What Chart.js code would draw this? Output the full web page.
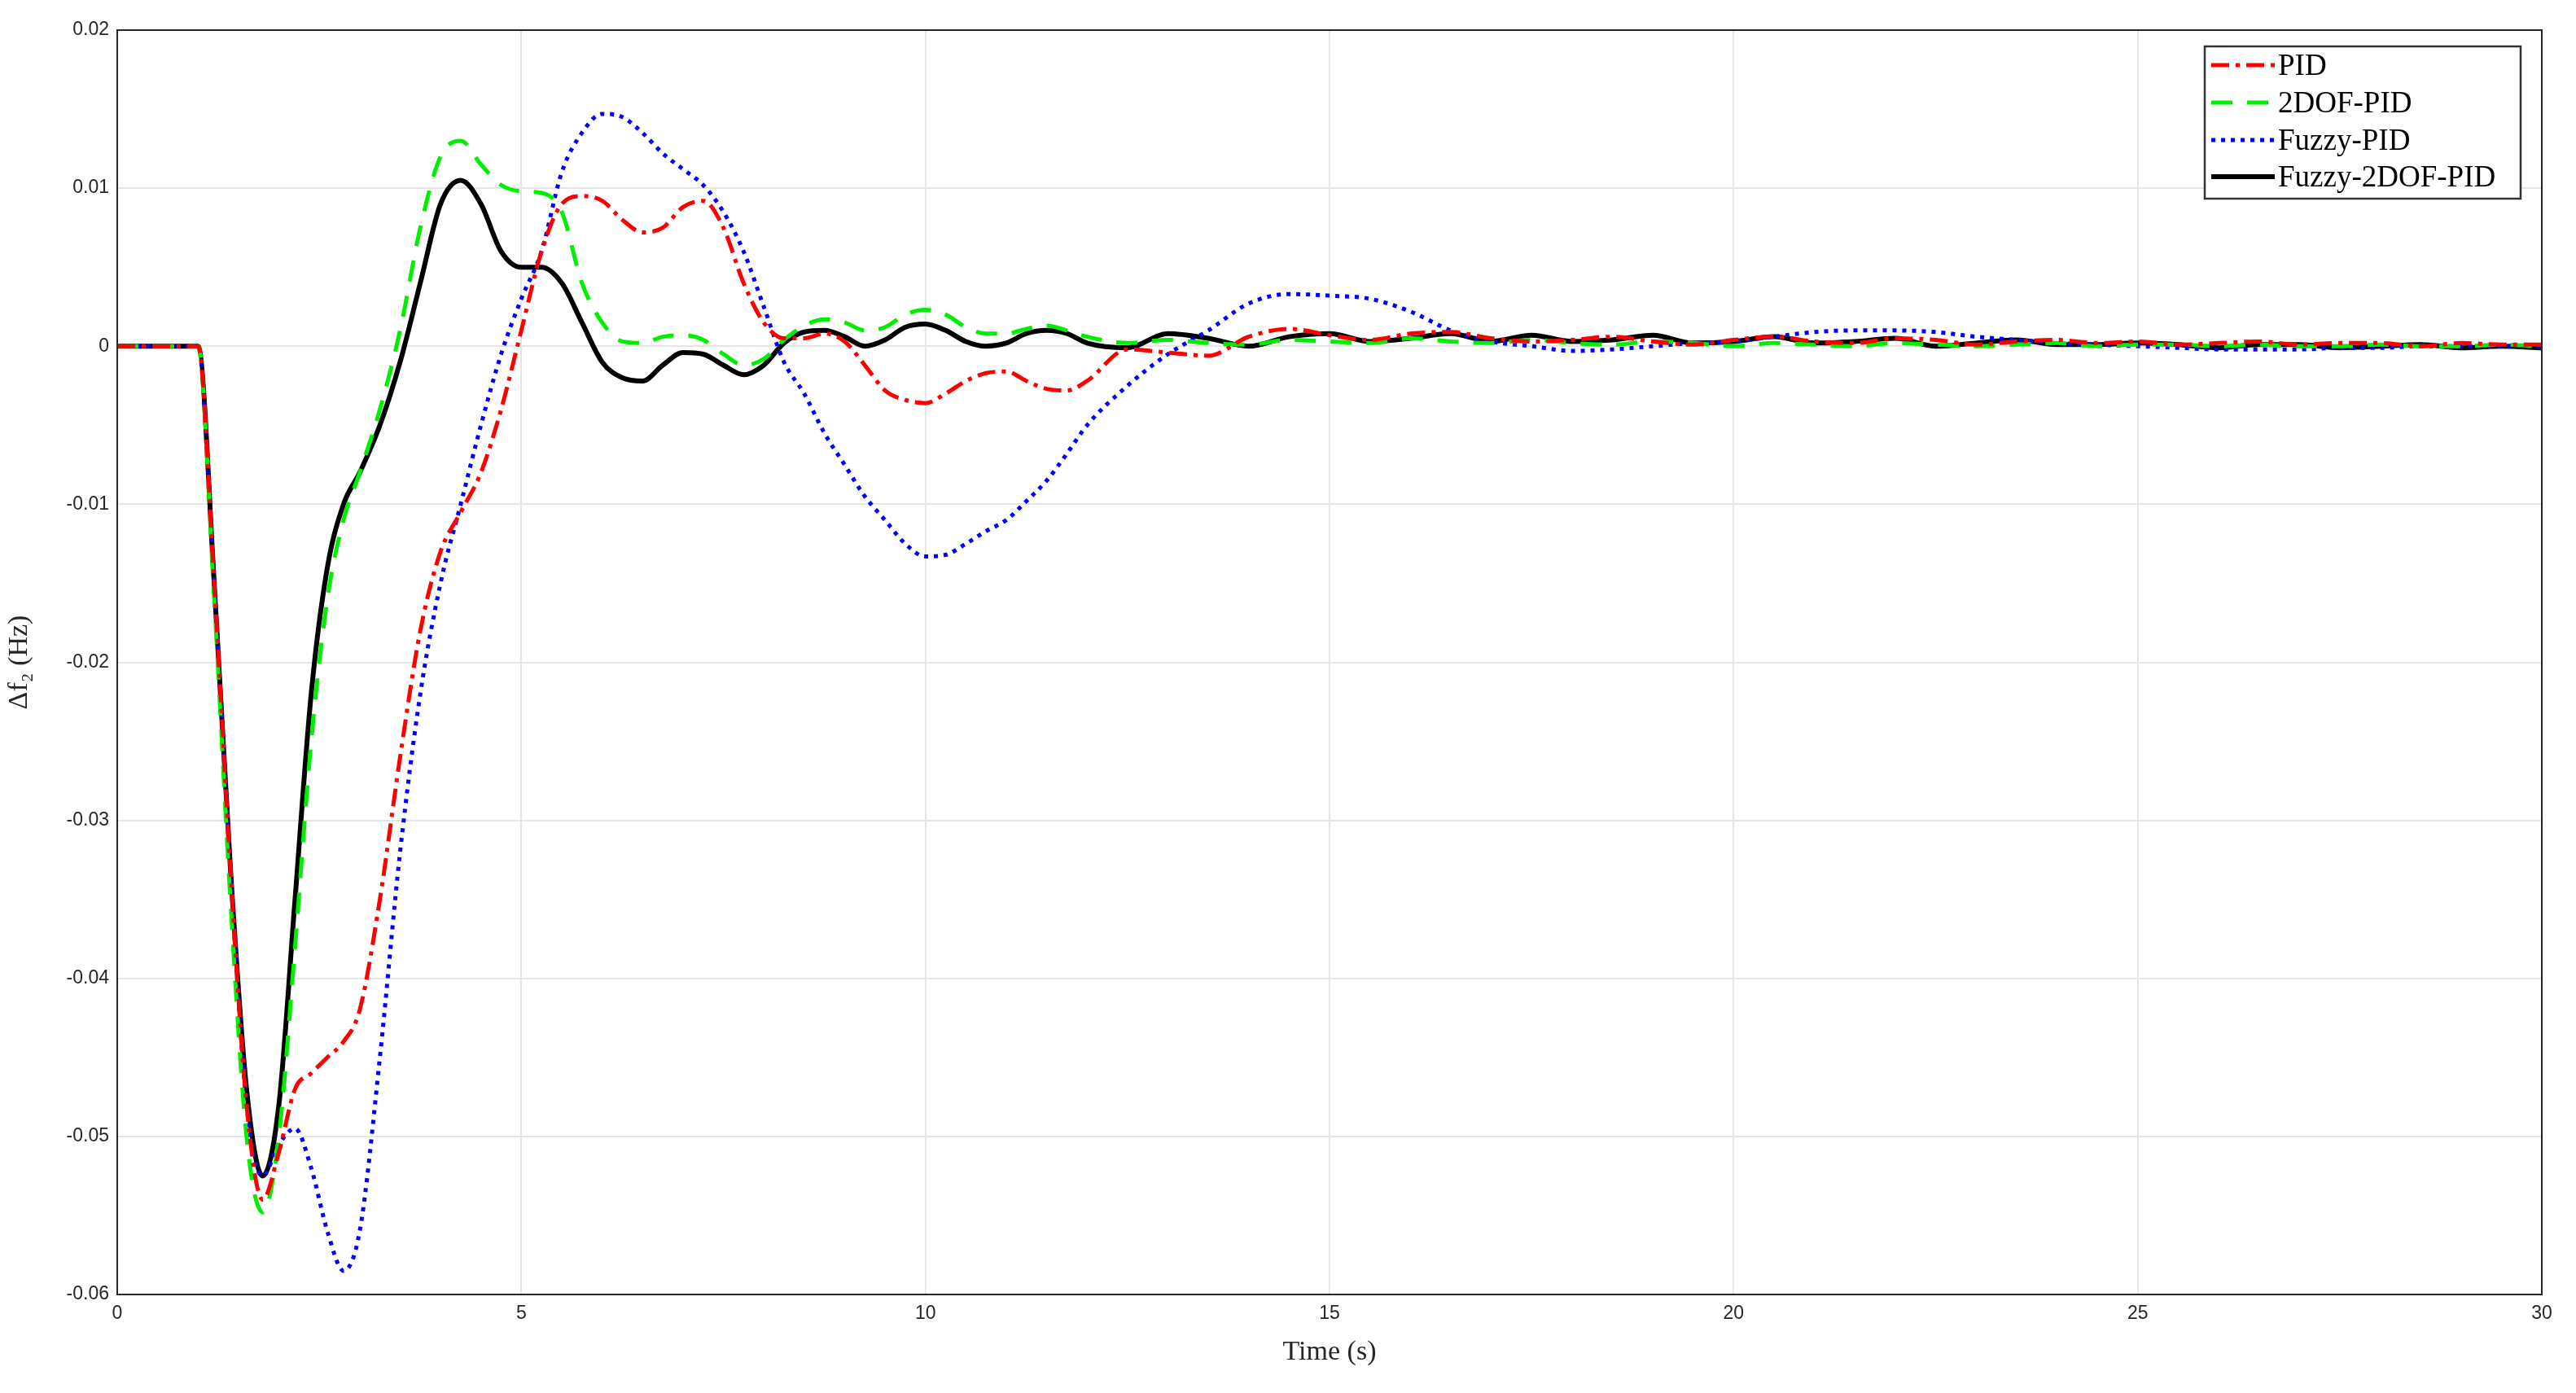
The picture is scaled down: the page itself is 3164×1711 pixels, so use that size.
<!DOCTYPE html>
<html>
<head>
<meta charset="utf-8">
<script src="https://cdn.jsdelivr.net/npm/chart.js@4/dist/chart.umd.min.js"></script>
<style>
  html, body { margin: 0; padding: 0; background: #fff; }
  #wrap { width: 3164px; height: 1711px; }
</style>
</head>
<body>
<div id="wrap"><canvas id="chart"></canvas></div>
<script>
// time samples (s)
const timeS = [0,0.5,1,1.2,1.4,1.6,1.8,2,2.2,2.4,2.6,2.8,3,
  3.25,3.5,3.75,4,4.25,4.5,4.75,5,5.25,5.5,5.75,6,6.25,6.5,6.75,7,7.25,7.5,7.75,8,
  8.25,8.5,8.75,9,9.25,9.5,9.75,10,10.25,10.5,10.75,11,11.25,11.5,11.75,12,
  12.5,13,13.5,14,14.5,15,15.5,16,16.5,17,17.5,18,18.5,19,19.5,20,20.5,21,21.5,
  22,22.5,23,23.5,24,24.5,25,25.5,26,26.5,27,27.5,28,28.5,29,29.5,30];

const pidVals = [0,0,0,-0.015,-0.033,-0.048,-0.054,-0.051,-0.047,-0.046,-0.045,-0.044,-0.042,
  -0.035,-0.026,-0.018,-0.013,-0.0105,-0.008,-0.004,0.001,0.006,0.009,0.0095,0.0092,0.008,0.0072,0.0075,0.0088,0.0092,0.0075,0.004,0.0015,
  0.0005,0.0005,0.0008,0.0003,-0.0012,-0.0028,-0.0034,-0.0036,-0.003,-0.0022,-0.0017,-0.0016,-0.0022,-0.0027,-0.0028,-0.0022,
  -0.0002,-0.0004,-0.0006,0.0006,0.0011,0.0007,0.0004,0.0008,0.0009,0.0005,0.0003,0.0004,0.0006,0.0003,0.0001,0.0004,0.0006,0.0003,0.0002,
  0.0005,0.0004,0.0001,0.0003,0.0004,0.0002,0.0003,0.0001,0.0002,0.0003,0.0001,0.0002,0.0002,0,0.0002,0.0001,0.0001];

const twoDofVals = [0,0,0,-0.016,-0.035,-0.05,-0.0548,-0.05,-0.038,-0.025,-0.016,-0.011,-0.008,
  -0.004,0.001,0.0075,0.012,0.013,0.0115,0.0102,0.0098,0.0097,0.0085,0.004,0.0015,0.0003,0.0002,0.0006,0.0007,0.0004,-0.0005,-0.0012,-0.0008,
  0.0004,0.0013,0.0017,0.0015,0.001,0.0012,0.002,0.0023,0.002,0.0012,0.0008,0.0008,0.0011,0.0013,0.001,0.0006,
  0.0002,0.0004,0.0002,0.0001,0.0004,0.0003,0.0002,0.0005,0.0003,0.0002,0.0004,0.0002,0.0001,0.0003,0.0002,0,0.0002,0.0001,0,
  0.0002,0.0001,0,0.0001,0.0002,0,0.0001,0.0001,0,0.0001,0,0,0.0001,0,0,0.0001,0];

const fuzzyVals = [0,0,0,-0.015,-0.033,-0.048,-0.0525,-0.0505,-0.0495,-0.052,-0.056,-0.0585,-0.056,
  -0.045,-0.032,-0.022,-0.015,-0.01,-0.005,-0.0005,0.003,0.006,0.011,0.0135,0.0147,0.0145,0.0135,0.0122,0.0112,0.0102,0.0085,0.006,0.0025,
  -0.001,-0.003,-0.0055,-0.0075,-0.0095,-0.011,-0.0125,-0.0133,-0.0132,-0.0125,-0.0117,-0.011,-0.0098,-0.0085,-0.0068,-0.005,
  -0.0025,-0.0005,0.001,0.0027,0.0033,0.0032,0.003,0.0022,0.001,0.0003,0,-0.0003,-0.0002,0,0.0002,0.0003,0.0006,0.0009,0.001,
  0.001,0.0009,0.0006,0.0004,0.0002,0.0001,0,-0.0001,-0.0002,-0.0002,-0.0002,-0.0001,-0.0001,0,0,0,0];

const fuzzy2DofVals = [0,0,0,-0.015,-0.033,-0.047,-0.0525,-0.048,-0.035,-0.022,-0.014,-0.01,-0.008,
  -0.005,-0.001,0.004,0.009,0.0105,0.009,0.006,0.005,0.005,0.004,0.0015,-0.001,-0.002,-0.0022,-0.0012,-0.0004,-0.0005,-0.0012,-0.0018,-0.0012,
  0.0002,0.0009,0.001,0.0006,0,0.0004,0.0012,0.0014,0.001,0.0003,0,0.0002,0.0008,0.001,0.0008,0.0002,
  -0.0001,0.0008,0.0005,0,0.0006,0.0008,0.0003,0.0005,0.0008,0.0003,0.0007,0.0003,0.0004,0.0007,0.0002,0.0003,0.0006,0.0002,0.0003,
  0.0005,0,0.0002,0.0004,0.0001,0.0001,0.0002,0.0001,-0.0001,0.0001,0.0001,-0.0001,0,0.0001,-0.0001,0,-0.0001];

const seriesNames = ['PID', '2DOF-PID', 'Fuzzy-PID', 'Fuzzy-2DOF-PID'];
const xTicks = [0, 5, 10, 15, 20, 25, 30];
const yTicks = [-0.06, -0.05, -0.04, -0.03, -0.02, -0.01, 0, 0.01, 0.02];

const styles = [
    { color: '#ff0000', dash: [22, 8, 5, 8] },
    { color: '#00ee00', dash: [26, 18] },
    { color: '#0000ff', dash: [5, 7] },
    { color: '#000000', dash: [] }
];

function toPoints(vals) {
    return timeS.map((t, i) => ({ x: t, y: vals[i] }));
}

const allVals = [pidVals, twoDofVals, fuzzyVals, fuzzy2DofVals];
const datasets = allVals.map((vals, i) => ({
    label: seriesNames[i],
    data: toPoints(vals),
    borderColor: styles[i].color,
    borderDash: styles[i].dash,
    borderWidth: i === 3 ? 6 : 5,
    pointRadius: 0,
    cubicInterpolationMode: 'monotone',
    fill: false
}));

// box around plot + MATLAB-style legend
const boxAndLegend = {
    id: 'boxAndLegend',
    afterDraw(chart) {
        const ctx = chart.ctx;
        const a = chart.chartArea;
        ctx.save();
        ctx.strokeStyle = '#262626';
        ctx.lineWidth = 2;
        ctx.setLineDash([]);
        ctx.strokeRect(a.left, a.top, a.right - a.left, a.bottom - a.top);

        const lx = 2708, ly = 57, lw = 388, lh = 187;
        ctx.fillStyle = '#fff';
        ctx.fillRect(lx, ly, lw, lh);
        ctx.strokeStyle = '#333';
        ctx.lineWidth = 2.5;
        ctx.strokeRect(lx, ly, lw, lh);
        ctx.font = '37px "Liberation Serif", serif';
        ctx.textBaseline = 'middle';
        const rows = [80, 126, 172, 217];
        chart.data.datasets.forEach((ds, i) => {
            ctx.strokeStyle = ds.borderColor;
            ctx.lineWidth = ds.borderWidth;
            ctx.setLineDash(ds.borderDash);
            ctx.beginPath();
            ctx.moveTo(lx + 8, rows[i]);
            ctx.lineTo(lx + 86, rows[i]);
            ctx.stroke();
            ctx.fillStyle = '#000';
            ctx.fillText(ds.label, lx + 90, rows[i] + 2);
        });
        ctx.restore();
    }
};

new Chart(document.getElementById('chart'), {
    type: 'line',
    data: { datasets },
    options: {
        responsive: true,
        maintainAspectRatio: false,
        animation: false,
        layout: { padding: { top: 37, right: 42, left: 0, bottom: 0 } },
        plugins: { legend: { display: false }, tooltip: { enabled: false } },
        scales: {
            x: {
                type: 'linear',
                min: 0, max: 30,
                afterBuildTicks: axis => { axis.ticks = xTicks.map(v => ({ value: v })); },
                afterFit: axis => { axis.height = 121; },
                grid: { color: '#e6e6e6', lineWidth: 2, drawTicks: false },
                border: { color: '#262626', width: 2 },
                ticks: { color: '#262626', font: { size: 23, family: 'Liberation Sans' }, padding: 10 },
                title: {
                    display: true, text: 'Time (s)', color: '#262626',
                    font: { size: 34, family: 'Liberation Serif' }, padding: { top: 4, bottom: 30 }
                }
            },
            y: {
                min: -0.06, max: 0.02,
                afterBuildTicks: axis => { axis.ticks = yTicks.map(v => ({ value: v })); },
                afterFit: axis => { axis.width = 144; },
                grid: { color: '#e6e6e6', lineWidth: 2, drawTicks: false },
                border: { color: '#262626', width: 2 },
                ticks: {
                    color: '#262626', font: { size: 23, family: 'Liberation Sans' }, padding: 10,
                    callback: v => String(Number(v.toFixed(2)))
                },
                title: {
                    display: true, text: 'Δf₂ (Hz)', color: '#262626',
                    font: { size: 34, family: 'Liberation Serif' }, padding: { bottom: 8 }
                }
            }
        }
    },
    plugins: [boxAndLegend]
});
</script>
</body>
</html>
